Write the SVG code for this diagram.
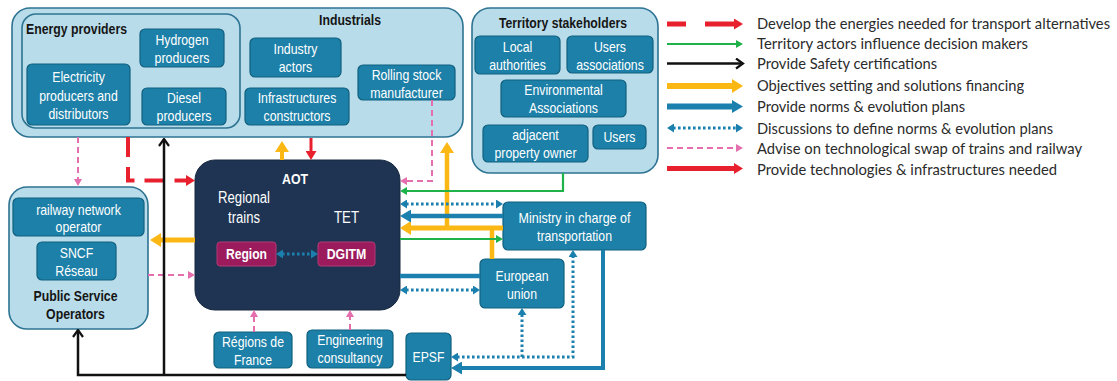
<svg xmlns="http://www.w3.org/2000/svg" width="1117" height="381" viewBox="0 0 1117 381">
  <style>
    .grp { fill: #b9dcea; stroke: #2d7392; stroke-width: 1.6; }
    .node { fill: #1d80a8; stroke: #10607f; stroke-width: 1.2; }
    .aot { fill: #1e3452; stroke: #16283f; stroke-width: 1; }
    .role { fill: #9b1b5c; stroke: #b23a76; stroke-width: 1; }
    .lbl { font-family: "Liberation Sans Narrow", "Liberation Sans", Arial, sans-serif; font-size: 15px; fill: #ffffff; text-anchor: middle; }
    .big { font-size: 16px; }
    .bold { font-weight: bold; }
    .ttl { font-family: "Liberation Sans Narrow", "Liberation Sans", Arial, sans-serif; font-size: 15px; font-weight: bold; fill: #151515; }
    .mid { text-anchor: middle; }
    .leg { font-family: "Lato", "Open Sans", sans-serif; font-size: 15px; fill: #2b2b2b; }
    .c { fill: none; }
    .red { stroke: #e8202e; }
    .redd { stroke: #e8202e; stroke-dasharray: 20 10; }
    .grn { stroke: #1fb24b; stroke-width: 2.2; }
    .blk { stroke: #111111; stroke-width: 2.5; }
    .yel { stroke: #fbb814; }
    .blu { stroke: #1b80ae; }
    .dot { stroke: #1b80ae; stroke-width: 3; stroke-dasharray: 2.6 2.4; }
    .pnk { stroke: #e56fae; stroke-width: 2; stroke-dasharray: 6 4; }
  </style>
  <defs>
    <marker id="m-yl" markerUnits="userSpaceOnUse" markerWidth="11" markerHeight="14" refX="1" refY="7" orient="auto">
      <path d="M0,0 L11,7 L0,14 z" fill="#fbb814"/>
    </marker>
    <marker id="m-bl" markerUnits="userSpaceOnUse" markerWidth="11" markerHeight="13" refX="1" refY="6.5" orient="auto">
      <path d="M0,0 L11,6.5 L0,13 z" fill="#1b80ae"/>
    </marker>
    <marker id="m-rd" markerUnits="userSpaceOnUse" markerWidth="9" markerHeight="11" refX="1" refY="5.5" orient="auto">
      <path d="M0,0 L9,5.5 L0,11 z" fill="#e8202e"/>
    </marker>
    <marker id="m-gr" markerUnits="userSpaceOnUse" markerWidth="7" markerHeight="8" refX="1" refY="4" orient="auto">
      <path d="M0,0 L7,4 L0,8 z" fill="#1fb24b"/>
    </marker>
    <marker id="m-pk" markerUnits="userSpaceOnUse" markerWidth="7" markerHeight="8" refX="1" refY="4" orient="auto">
      <path d="M0,0 L7,4 L0,8 z" fill="#e56fae"/>
    </marker>
    <marker id="m-dt" markerUnits="userSpaceOnUse" markerWidth="7" markerHeight="9" refX="1" refY="4.5" orient="auto-start-reverse">
      <path d="M0,0 L7,4.5 L0,9 z" fill="#1b80ae"/>
    </marker>
    <marker id="m-bk" markerUnits="userSpaceOnUse" markerWidth="10" markerHeight="12" refX="8.5" refY="6" orient="auto">
      <path d="M1.5,1 L8.5,6 L1.5,11" fill="none" stroke="#111111" stroke-width="2.2"/>
    </marker>
  </defs>

  <rect width="1117" height="381" fill="#ffffff"/>

  <!-- Industrials group, with the energy providers nested inside -->
  <g id="industrials">
    <rect class="grp" x="12" y="8" width="451" height="129" rx="18"/>
    <text class="ttl mid" x="350" y="25" textLength="62" lengthAdjust="spacingAndGlyphs">Industrials</text>
    <g id="energy-providers">
      <rect class="grp" x="22" y="14" width="218" height="114" rx="14"/>
      <text class="ttl" x="26" y="34" textLength="101" lengthAdjust="spacingAndGlyphs">Energy providers</text>
      <g id="hydrogen-producers">
        <rect class="node" x="140" y="29" width="84" height="38" rx="5"/>
        <text class="lbl" x="182" y="45" textLength="53" lengthAdjust="spacingAndGlyphs">Hydrogen</text>
        <text class="lbl" x="182" y="63" textLength="55" lengthAdjust="spacingAndGlyphs">producers</text>
      </g>
      <g id="electricity-producers">
        <rect class="node" x="27" y="64" width="103" height="61" rx="5"/>
        <text class="lbl" x="78.5" y="82" textLength="52.6" lengthAdjust="spacingAndGlyphs">Electricity</text>
        <text class="lbl" x="78.5" y="101" textLength="78.6" lengthAdjust="spacingAndGlyphs">producers and</text>
        <text class="lbl" x="78.5" y="119" textLength="60" lengthAdjust="spacingAndGlyphs">distributors</text>
      </g>
      <g id="diesel-producers">
        <rect class="node" x="142" y="88" width="84" height="37" rx="5"/>
        <text class="lbl" x="184" y="103" textLength="34" lengthAdjust="spacingAndGlyphs">Diesel</text>
        <text class="lbl" x="184" y="121" textLength="55" lengthAdjust="spacingAndGlyphs">producers</text>
      </g>
    </g>
    <g id="industry-actors">
      <rect class="node" x="250" y="38" width="91" height="39" rx="5"/>
      <text class="lbl" x="295.5" y="54" textLength="44" lengthAdjust="spacingAndGlyphs">Industry</text>
      <text class="lbl" x="295.5" y="72" textLength="33.5" lengthAdjust="spacingAndGlyphs">actors</text>
    </g>
    <g id="infrastructures-constructors">
      <rect class="node" x="245" y="88" width="104" height="37" rx="5"/>
      <text class="lbl" x="297" y="103" textLength="78.6" lengthAdjust="spacingAndGlyphs">Infrastructures</text>
      <text class="lbl" x="297" y="121" textLength="67" lengthAdjust="spacingAndGlyphs">constructors</text>
    </g>
    <g id="rolling-stock">
      <rect class="node" x="358" y="65" width="97" height="35" rx="5"/>
      <text class="lbl" x="406.5" y="80" textLength="69.7" lengthAdjust="spacingAndGlyphs">Rolling stock</text>
      <text class="lbl" x="406.5" y="97.5" textLength="72.5" lengthAdjust="spacingAndGlyphs">manufacturer</text>
    </g>
  </g>

  <!-- Territory stakeholders -->
  <g id="territory-stakeholders">
    <rect class="grp" x="472" y="8" width="186" height="165" rx="18"/>
    <text class="ttl mid" x="563" y="28" textLength="128" lengthAdjust="spacingAndGlyphs">Territory stakeholders</text>
    <g id="local-authorities">
      <rect class="node" x="475" y="36" width="85" height="38" rx="5"/>
      <text class="lbl" x="517.5" y="52" textLength="29.4" lengthAdjust="spacingAndGlyphs">Local</text>
      <text class="lbl" x="517.5" y="70" textLength="56.7" lengthAdjust="spacingAndGlyphs">authorities</text>
    </g>
    <g id="users-associations">
      <rect class="node" x="567" y="36" width="86" height="37" rx="5"/>
      <text class="lbl" x="610" y="52" textLength="32" lengthAdjust="spacingAndGlyphs">Users</text>
      <text class="lbl" x="610" y="70" textLength="67.7" lengthAdjust="spacingAndGlyphs">associations</text>
    </g>
    <g id="environmental-associations">
      <rect class="node" x="501" y="80" width="125" height="37" rx="5"/>
      <text class="lbl" x="563.5" y="95" textLength="78.6" lengthAdjust="spacingAndGlyphs">Environmental</text>
      <text class="lbl" x="563.5" y="113" textLength="69" lengthAdjust="spacingAndGlyphs">Associations</text>
    </g>
    <g id="adjacent-owner">
      <rect class="node" x="483" y="125" width="105" height="37" rx="5"/>
      <text class="lbl" x="535.5" y="140" textLength="46.5" lengthAdjust="spacingAndGlyphs">adjacent</text>
      <text class="lbl" x="535.5" y="158" textLength="82" lengthAdjust="spacingAndGlyphs">property owner</text>
    </g>
    <g id="users">
      <rect class="node" x="593" y="125" width="53" height="24" rx="5"/>
      <text class="lbl" x="619.5" y="142" textLength="32" lengthAdjust="spacingAndGlyphs">Users</text>
    </g>
  </g>

  <!-- Public service operators -->
  <g id="public-service-operators">
    <rect class="grp" x="9" y="187" width="139" height="142" rx="18"/>
    <g id="railway-network-operator">
      <rect class="node" x="13" y="198" width="131" height="38" rx="5"/>
      <text class="lbl" x="78.5" y="215" textLength="84.7" lengthAdjust="spacingAndGlyphs">railway network</text>
      <text class="lbl" x="78.5" y="232" textLength="45.8" lengthAdjust="spacingAndGlyphs">operator</text>
    </g>
    <g id="sncf-reseau">
      <rect class="node" x="37" y="242" width="79" height="38" rx="5"/>
      <text class="lbl" x="76.5" y="258" textLength="33.5" lengthAdjust="spacingAndGlyphs">SNCF</text>
      <text class="lbl" x="76.5" y="276" textLength="42.4" lengthAdjust="spacingAndGlyphs">Réseau</text>
    </g>
    <text class="ttl mid" x="75.5" y="301" textLength="84" lengthAdjust="spacingAndGlyphs">Public Service</text>
    <text class="ttl mid" x="75.5" y="319" textLength="58.8" lengthAdjust="spacingAndGlyphs">Operators</text>
  </g>

  <!-- Organising authority -->
  <g id="aot">
    <rect class="aot" x="195" y="160" width="205" height="150" rx="20"/>
    <text class="lbl bold" x="295" y="184" textLength="26" lengthAdjust="spacingAndGlyphs">AOT</text>
    <text class="lbl big" x="244" y="203" textLength="52" lengthAdjust="spacingAndGlyphs">Regional</text>
    <text class="lbl big" x="244" y="223" textLength="32" lengthAdjust="spacingAndGlyphs">trains</text>
    <text class="lbl big" x="346.5" y="223" textLength="25" lengthAdjust="spacingAndGlyphs">TET</text>
    <g id="region">
      <rect class="role" x="217" y="242" width="59" height="24" rx="3"/>
      <text class="lbl bold" x="246.5" y="259" textLength="41" lengthAdjust="spacingAndGlyphs">Region</text>
    </g>
    <g id="dgitm">
      <rect class="role" x="318" y="242" width="57" height="24" rx="3"/>
      <text class="lbl bold" x="346.5" y="259" textLength="39.6" lengthAdjust="spacingAndGlyphs">DGITM</text>
    </g>
  </g>

  <g id="regions-de-france">
    <rect class="node" x="214" y="332" width="78" height="36" rx="5"/>
    <text class="lbl" x="253" y="347" textLength="62" lengthAdjust="spacingAndGlyphs">Régions de</text>
    <text class="lbl" x="253" y="365" textLength="38" lengthAdjust="spacingAndGlyphs">France</text>
  </g>
  <g id="engineering-consultancy">
    <rect class="node" x="307" y="330" width="86" height="38" rx="5"/>
    <text class="lbl" x="350" y="345" textLength="65.6" lengthAdjust="spacingAndGlyphs">Engineering</text>
    <text class="lbl" x="350" y="363" textLength="65" lengthAdjust="spacingAndGlyphs">consultancy</text>
  </g>
  <g id="epsf">
    <rect class="node" x="406" y="333" width="45" height="47" rx="5"/>
    <text class="lbl" x="428.5" y="362" textLength="32" lengthAdjust="spacingAndGlyphs">EPSF</text>
  </g>
  <g id="ministry">
    <rect class="node" x="503" y="202" width="143" height="48" rx="5"/>
    <text class="lbl" x="574.5" y="223" textLength="112" lengthAdjust="spacingAndGlyphs">Ministry in charge of</text>
    <text class="lbl" x="574.5" y="241" textLength="75" lengthAdjust="spacingAndGlyphs">transportation</text>
  </g>
  <g id="european-union">
    <rect class="node" x="480" y="259" width="84" height="49" rx="5"/>
    <text class="lbl" x="522" y="281" textLength="53" lengthAdjust="spacingAndGlyphs">European</text>
    <text class="lbl" x="522" y="299" textLength="30" lengthAdjust="spacingAndGlyphs">union</text>
  </g>

  <!-- Connectors -->
  <g id="connectors" class="c">
    <!-- energies for transport alternatives -->
    <path class="redd" stroke-width="4" d="M128,137 V180.5 H187" marker-end="url(#m-rd)"/>
    <!-- technologies and infrastructures -->
    <path class="red" stroke-width="3" d="M311,138 V152" marker-end="url(#m-rd)"/>
    <!-- objectives and financing -->
    <path class="yel" stroke-width="4" d="M282,160 V151" marker-end="url(#m-yl)"/>
    <path class="yel" stroke-width="5" d="M195,240 H160" marker-end="url(#m-yl)"/>
    <path class="yel" stroke-width="5" d="M503,228 H410" marker-end="url(#m-yl)"/>
    <path class="yel" stroke-width="4.5" d="M447,230 V152" marker-end="url(#m-yl)"/>
    <path class="yel" stroke-width="4.5" d="M492,259 V226"/>
    <!-- territory influence -->
    <path class="grn" d="M563,173 V191 H406" marker-end="url(#m-gr)"/>
    <path class="grn" d="M400,239 H497" marker-end="url(#m-gr)"/>
    <!-- norms and evolution plans -->
    <path class="blu" stroke-width="4.5" d="M503,216 H410" marker-end="url(#m-bl)"/>
    <path class="blu" stroke-width="4.5" d="M400,276 H480"/>
    <path class="blu" stroke-width="4" d="M603,250 V368 H461" marker-end="url(#m-bl)"/>
    <!-- discussions on norms -->
    <path class="dot" d="M406,204 H497" marker-start="url(#m-dt)" marker-end="url(#m-dt)"/>
    <path class="dot" d="M406,290 H474" marker-start="url(#m-dt)" marker-end="url(#m-dt)"/>
    <path class="dot" d="M282,254 H312" marker-start="url(#m-dt)" marker-end="url(#m-dt)"/>
    <path class="dot" d="M457,357 H573 V256" marker-start="url(#m-dt)" marker-end="url(#m-dt)"/>
    <path class="dot" d="M522,357 V314" marker-end="url(#m-dt)"/>
    <!-- technological advice -->
    <path class="pnk" d="M78,137 V180" marker-end="url(#m-pk)"/>
    <path class="pnk" d="M432,100 V181 H406" marker-end="url(#m-pk)"/>
    <path class="pnk" d="M148,275 H189" marker-end="url(#m-pk)"/>
    <path class="pnk" d="M254,332 V316" marker-end="url(#m-pk)"/>
    <path class="pnk" d="M350,330 V316" marker-end="url(#m-pk)"/>
    <!-- safety certifications -->
    <path class="blk" d="M406,375 H78 V330" marker-end="url(#m-bk)"/>
    <path class="blk" d="M164,375 V139" marker-end="url(#m-bk)"/>
  </g>

  <!-- Legend -->
  <g id="legend">
    <g class="c">
      <path class="red" stroke-width="5" stroke-dasharray="19 19 30" d="M667,24 H735" marker-end="url(#m-rd)"/>
      <path class="grn" d="M667,44 H737" marker-end="url(#m-gr)"/>
      <path class="blk" d="M667,63.5 H743" marker-end="url(#m-bk)"/>
      <path class="yel" stroke-width="6" d="M667,86 H733" marker-end="url(#m-yl)"/>
      <path class="blu" stroke-width="6" d="M667,106.5 H733" marker-end="url(#m-bl)"/>
      <path class="dot" d="M673,128 H737" marker-start="url(#m-dt)" marker-end="url(#m-dt)"/>
      <path class="pnk" stroke-width="2.5" stroke-dasharray="6 3.5" d="M667,148 H737" marker-end="url(#m-pk)"/>
      <path class="red" stroke-width="5" d="M667,168.5 H735" marker-end="url(#m-rd)"/>
    </g>
    <text class="leg" x="757" y="29" textLength="353" lengthAdjust="spacingAndGlyphs">Develop the energies needed for transport alternatives</text>
    <text class="leg" x="757" y="49" textLength="271" lengthAdjust="spacingAndGlyphs">Territory actors influence decision makers</text>
    <text class="leg" x="757" y="69" textLength="180" lengthAdjust="spacingAndGlyphs">Provide Safety certifications</text>
    <text class="leg" x="757" y="90.5" textLength="267" lengthAdjust="spacingAndGlyphs">Objectives setting and solutions financing</text>
    <text class="leg" x="757" y="112" textLength="208" lengthAdjust="spacingAndGlyphs">Provide norms &amp; evolution plans</text>
    <text class="leg" x="757" y="133.5" textLength="296" lengthAdjust="spacingAndGlyphs">Discussions to define norms &amp; evolution plans</text>
    <text class="leg" x="757" y="153.5" textLength="325" lengthAdjust="spacingAndGlyphs">Advise on technological swap of trains and railway</text>
    <text class="leg" x="757" y="174.5" textLength="300" lengthAdjust="spacingAndGlyphs">Provide technologies &amp; infrastructures needed</text>
  </g>
</svg>
